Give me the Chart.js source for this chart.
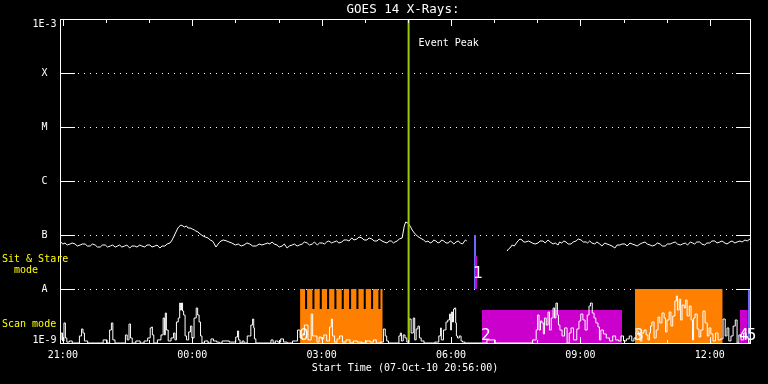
<!DOCTYPE html>
<html><head><meta charset="utf-8">
<script src="https://cdn.jsdelivr.net/npm/chart.js@4/dist/chart.umd.min.js"></script>
<style>html,body{margin:0;padding:0;background:#000;overflow:hidden}</style>
</head><body>
<canvas id="c" width="768" height="384"></canvas>
<script>
// ---------- DATA ----------
const titleText = 'GOES 14 X-Rays:';
const xAxisTitle = 'Start Time (07-Oct-10 20:56:00)';
// time axis: minutes after 07-Oct-10 20:56:00
const xRange = [0, 960];
const xTickMinutes = [4, 184, 364, 544, 724, 904];
const xTickLabels = ['21:00', '00:00', '03:00', '06:00', '09:00', '12:00'];
const xMinorMinutes = [4, 64, 124, 184, 244, 304, 364, 424, 484, 544, 604, 664, 724, 784, 844, 904];
const yTickValues = [1e-9, 1e-8, 1e-7, 1e-6, 1e-5, 1e-4, 1e-3];
const yTickLabels = ['1E-9', 'A', 'B', 'C', 'M', 'X', '1E-3'];

// GOES long channel (1-8 A), [minute, flux in 1e-8 W/m^2]
const longChannel = [[1,7.42],[4,6.81],[7,7.11],[10,6.52],[14,6.81],[17,7.11],[21,6.81],[24,6.25],[28,6.52],[31,6.81],[35,6.81],[38,6.25],[42,6.25],[45,6.81],[49,6.52],[52,5.99],[56,5.99],[59,6.52],[63,6.52],[66,5.99],[70,6.25],[73,6.52],[77,5.99],[80,6.25],[83,6.52],[86,5.99],[90,6.25],[93,6.52],[97,5.74],[100,6.25],[104,6.25],[107,5.99],[111,6.52],[114,6.25],[118,5.99],[121,6.52],[125,6.52],[128,5.99],[132,6.25],[135,6.52],[139,5.74],[142,6.25],[146,6.25],[149,6.81],[153,7.11],[156,8.08],[160,10.43],[164,13.48],[168,15.32],[171,14.68],[173,14.07],[176,14.68],[178,13.48],[181,13.48],[184,12.92],[187,12.37],[189,11.86],[192,11.36],[195,10.43],[199,9.58],[202,9.18],[206,8.80],[209,8.08],[212,7.74],[214,7.11],[217,5.99],[219,6.52],[221,7.11],[224,7.74],[227,8.08],[232,7.74],[235,7.42],[239,7.11],[244,6.52],[248,6.81],[252,6.25],[256,6.52],[260,7.11],[264,6.81],[268,6.25],[273,6.25],[277,6.81],[281,6.52],[285,6.81],[289,7.11],[292,6.81],[295,7.42],[298,6.81],[302,6.52],[305,5.99],[309,6.25],[312,6.81],[316,5.74],[319,6.25],[323,6.52],[326,6.81],[330,6.25],[333,6.52],[337,6.81],[340,7.42],[344,7.11],[347,6.52],[351,6.81],[354,7.42],[358,6.52],[361,7.11],[365,7.11],[368,6.81],[371,7.42],[374,7.74],[378,7.11],[381,7.42],[385,7.74],[388,7.11],[392,7.42],[395,8.08],[399,8.08],[402,7.74],[406,8.80],[409,8.08],[413,8.43],[416,9.18],[420,8.80],[423,8.08],[427,8.08],[430,8.80],[434,8.43],[437,7.74],[441,7.74],[444,8.43],[448,7.74],[451,7.42],[455,7.11],[458,7.74],[461,7.74],[464,7.11],[466,7.42],[469,7.74],[472,8.43],[476,8.80],[479,14.68],[481,17.41],[484,16.68],[487,14.68],[490,12.37],[493,10.89],[497,9.58],[501,8.80],[506,8.08],[509,7.42],[512,7.74],[515,7.11],[518,7.42],[520,8.08],[523,7.74],[526,7.11],[529,7.42],[531,8.08],[534,7.74],[537,7.11],[540,7.11],[543,7.74],[545,7.42],[548,6.81],[551,7.42],[554,7.74],[557,7.11],[560,6.81],[562,7.42],[564,8.08],[566,7.74],[598,null],[622,5.05],[624,5.50],[626,5.74],[629,6.52],[632,6.25],[635,7.11],[637,7.74],[640,8.43],[643,8.08],[645,7.42],[648,7.42],[652,7.74],[657,7.11],[661,6.81],[665,7.11],[668,7.74],[672,7.74],[675,7.11],[679,8.08],[682,7.42],[686,6.81],[689,7.11],[693,6.52],[695,7.42],[698,7.11],[701,7.74],[704,7.42],[707,6.81],[711,6.81],[714,7.42],[718,7.74],[721,8.43],[725,8.08],[728,7.42],[732,7.42],[734,7.11],[737,7.74],[740,7.11],[744,6.81],[747,7.42],[751,6.81],[754,6.25],[758,7.11],[761,6.81],[765,6.52],[768,6.25],[772,5.74],[775,6.52],[779,6.52],[782,6.81],[786,6.81],[789,6.25],[793,7.11],[796,6.81],[800,6.52],[803,6.25],[807,6.81],[810,7.11],[814,7.42],[817,6.81],[821,6.52],[824,6.25],[828,6.52],[831,7.11],[835,6.81],[838,6.25],[842,6.25],[845,6.81],[849,6.81],[852,7.11],[856,7.42],[859,6.81],[863,6.52],[866,6.81],[870,7.11],[873,6.52],[877,7.42],[880,7.11],[883,6.81],[886,7.42],[890,7.42],[893,6.81],[897,6.52],[900,7.11],[904,7.11],[907,7.74],[911,7.74],[914,7.11],[918,7.42],[921,7.74],[925,7.11],[928,6.81],[932,7.42],[935,7.74],[939,7.11],[942,7.42],[946,7.74],[949,7.42],[953,8.08],[956,7.74],[960,8.43]];

// GOES short channel (0.5-4 A), [minute, flux in 1e-9 W/m^2]
const shortChannel = [[0,1.14],[3,1.53],[4,1.09],[7,2.35],[8,1.24],[11,1.04],[15,1.09],[19,1.0],[25,1.0],[29,1.35],[31,1.82],[33,1.53],[35,1.09],[42,1.0],[56,1.0],[64,1.14],[67,1.0],[71,1.74],[72,2.35],[75,1.14],[78,1.0],[90,1.0],[92,1.41],[95,1.14],[97,2.25],[99,1.24],[102,1.0],[109,1.09],[114,1.0],[120,1.09],[124,1.24],[127,1.90],[128,1.98],[129,1.41],[132,1.0],[139,1.14],[142,1.41],[145,2.90],[146,1.41],[147,3.59],[149,1.74],[152,1.09],[157,1.24],[159,1.53],[161,1.14],[163,2.45],[166,2.90],[167,5.50],[168,4.08],[170,5.50],[171,3.91],[173,3.30],[175,1.35],[177,1.14],[181,1.60],[182,2.06],[185,1.24],[188,2.90],[191,4.45],[192,3.30],[195,2.45],[196,1.35],[199,1.0],[203,1.09],[209,1.0],[211,1.19],[216,1.09],[220,1.04],[223,1.0],[228,1.09],[243,1.04],[246,1.29],[248,1.67],[249,1.14],[252,1.0],[255,1.09],[257,1.0],[264,1.35],[267,2.15],[269,2.78],[270,1.90],[271,1.19],[274,1.0],[292,1.0],[295,1.14],[298,1.0],[301,1.09],[305,1.04],[309,1.19],[313,1.04],[319,1.0],[328,1.09],[333,1.74],[335,1.24],[338,1.41],[342,2.15],[348,1.14],[351,3.44],[352,1.35],[356,1.35],[359,1.04],[362,1.29],[365,1.19],[369,1.41],[373,1.09],[377,1.98],[378,2.78],[380,1.35],[384,1.04],[387,1.19],[391,1.35],[395,1.04],[401,1.14],[406,1.0],[410,1.09],[417,1.04],[423,1.0],[429,1.09],[434,1.04],[438,1.14],[442,1.0],[449,1.04],[451,1.82],[454,1.35],[455,1.09],[459,1.0],[470,1.0],[473,1.35],[474,1.53],[476,1.09],[479,1.41],[481,1.24],[484,1.04],[487,2.78],[490,1.53],[493,2.90],[494,1.14],[497,1.82],[499,2.06],[501,1.24],[504,1.09],[509,1.0],[518,1.0],[525,1.04],[529,1.35],[530,1.90],[531,1.14],[536,1.74],[538,2.45],[541,2.67],[543,3.44],[544,1.74],[545,3.75],[547,2.45],[548,4.26],[550,4.45],[551,2.35],[552,1.35],[554,1.24],[557,1.35],[559,1.09],[561,1.04],[566,1.0],[584,1.0],[604,1.14],[607,1.0],[626,1.0],[654,1.0],[661,1.14],[664,1.74],[665,3.30],[668,1.74],[669,2.55],[672,2.35],[673,1.47],[675,2.90],[678,2.15],[680,3.75],[682,1.74],[685,2.90],[687,4.45],[689,2.90],[691,5.50],[693,3.30],[694,2.15],[697,1.74],[700,1.35],[704,1.90],[707,1.0],[710,1.53],[712,1.90],[717,1.14],[721,1.82],[723,2.55],[726,3.44],[729,2.67],[732,1.74],[735,3.30],[737,4.84],[739,5.50],[742,3.59],[744,2.90],[747,2.35],[750,1.98],[751,1.14],[754,1.74],[758,1.47],[762,1.24],[767,1.09],[771,1.35],[775,1.14],[779,1.09],[782,1.35],[786,1.09],[790,1.19],[794,1.35],[797,1.09],[800,1.24],[803,1.67],[806,1.41],[808,1.09],[811,1.53],[814,1.74],[817,1.41],[819,1.14],[821,1.53],[822,2.06],[825,2.45],[828,1.24],[831,1.74],[833,3.03],[836,2.35],[839,3.59],[842,2.90],[843,1.60],[846,2.67],[849,3.75],[851,2.06],[854,3.16],[857,5.99],[858,7.41],[860,4.08],[863,6.52],[864,2.67],[867,5.05],[870,4.45],[871,6.25],[874,3.16],[877,4.84],[879,2.67],[881,1.14],[882,2.90],[885,3.44],[888,1.82],[890,1.29],[893,1.74],[896,3.91],[899,2.35],[902,1.35],[904,1.90],[907,1.47],[910,1.09],[914,1.53],[917,1.14],[921,1.19],[924,2.78],[927,1.35],[929,1.90],[932,1.09],[935,1.35],[938,2.06],[941,2.67],[943,1.0],[946,1.41],[949,1.14],[953,1.53],[956,1.24],[960,1.0]];

const eventPeakMinute = 485;
const eventLabel = 'Event Peak';

// observation blocks
const blockIds   = ['0', '1', '2', '3', '4', '5'];
const blockKind  = ['orange', 'blue', 'magenta', 'orange', 'magenta', 'blue'];
const blockStart = [334, 576, 587, 800, 946, 957];
const blockEnd   = [449, 579, 782, 922, 957, 960];
const blockHigh  = [1e-8, 1e-7, 4.08e-9, 1e-8, 4.08e-9, 1e-8];
const blockLow   = [1e-9, 1e-8, 1e-9, 1e-9, 1e-9, 1e-9];
// inner sub-bar of block 1
const subBarStart = 577.5, subBarEnd = 580.5, subBarHigh = 4.08e-8, subBarLow = 1e-8;
// data gaps inside block 0
const gapStart = [341, 351.2, 361.4, 371.6, 381.8, 392, 402.2, 412.4, 422.6, 432.8, 443];
const gapEnd   = [343.8, 354, 364.2, 374.4, 384.6, 394.8, 405, 415.2, 425.4, 435.6, 445.8];
const gapLevel = 4.26e-9;
const modeLabels = [['Sit & Stare', '  mode'], ['Scan mode']];
const modeLabelValues = [3.6e-8, 2.25e-9];

// ---------- CHART ----------
const MONO = '"DejaVu Sans Mono", "Liberation Mono", monospace';
const kindColor = {orange: '#ff8000', magenta: '#cc00cc', blue: '#6a6aff'};

const datasets = [];
datasets.push({
  label: 'event', data: [{x: eventPeakMinute, y: 1e-9}, {x: eventPeakMinute, y: 1e-3}],
  borderColor: '#99cc00', borderWidth: 2, pointRadius: 0, fill: false
});
datasets.push({
  label: 'short', data: shortChannel.map(p => ({x: p[0], y: p[1] * 1e-9})),
  borderColor: '#ffffff', borderWidth: 1, pointRadius: 0, fill: false, stepped: 'middle'
});
datasets.push({
  label: 'long', data: longChannel.map(p => ({x: p[0], y: p[1] === null ? null : p[1] * 1e-8})),
  borderColor: '#ffffff', borderWidth: 1, pointRadius: 0, fill: false, spanGaps: false
});
datasets.push({
  label: 'sub', data: [{x: subBarStart, y: subBarHigh}, {x: subBarEnd, y: subBarHigh}],
  borderWidth: 0, pointRadius: 0, backgroundColor: kindColor.magenta, fill: {value: subBarLow}
});
blockIds.forEach((id, i) => {
  let pts;
  if (i === 0) {
    pts = [{x: blockStart[i], y: blockHigh[i]}];
    gapStart.forEach((g, k) => {
      pts.push({x: g, y: blockHigh[i]}, {x: g, y: gapLevel}, {x: gapEnd[k], y: gapLevel}, {x: gapEnd[k], y: blockHigh[i]});
    });
    pts.push({x: blockEnd[i], y: blockHigh[i]});
  } else {
    pts = [{x: blockStart[i], y: blockHigh[i]}, {x: blockEnd[i], y: blockHigh[i]}];
  }
  datasets.push({
    label: 'block' + id, data: pts, borderWidth: 0, pointRadius: 0,
    backgroundColor: kindColor[blockKind[i]], borderColor: 'rgba(0,0,0,0)',
    fill: {value: blockLow[i]}
  });
});

const decor = {
  id: 'decor',
  beforeDraw(chart) {
    const {ctx, width, height} = chart;
    ctx.save(); ctx.fillStyle = '#000'; ctx.fillRect(0, 0, width, height); ctx.restore();
  },
  beforeDatasetsDraw(chart) {
    const {ctx, chartArea: a, scales: {y}} = chart;
    ctx.save();
    ctx.fillStyle = '#fff';
    yTickValues.forEach(v => {
      const py = Math.round(y.getPixelForValue(v));
      if (py <= a.top + 1 || py >= a.bottom - 1) return;
      for (let px = a.left + 18; px < a.right - 15; px += 6) ctx.fillRect(px, py, 1, 1);
    });
    ctx.restore();
  },
  afterDatasetsDraw(chart) {
    const {ctx, chartArea: a, scales: {x, y}} = chart;
    ctx.save();
    ctx.fillStyle = '#fff';
    // frame
    ctx.fillRect(a.left, a.top, a.right - a.left + 1, 1);
    ctx.fillRect(a.left, a.bottom, a.right - a.left + 1, 1);
    ctx.fillRect(a.left, a.top, 1, a.bottom - a.top + 1);
    ctx.fillRect(a.right, a.top, 1, a.bottom - a.top + 1);
    // y ticks
    yTickValues.forEach(v => {
      const py = Math.round(y.getPixelForValue(v));
      ctx.fillRect(a.left, py, 15, 1);
      ctx.fillRect(a.right - 14, py, 15, 1);
    });
    // x ticks
    xMinorMinutes.forEach(m => {
      const px = Math.round(x.getPixelForValue(m));
      const len = xTickMinutes.includes(m) ? 7 : 4;
      ctx.fillRect(px, a.top, 1, len);
      ctx.fillRect(px, a.bottom - len + 1, 1, len);
    });
    ctx.restore();
  },
  afterDraw(chart) {
    const {ctx, chartArea: a, scales: {x, y}} = chart;
    ctx.save();
    // title
    ctx.fillStyle = '#fff';
    ctx.font = '12.5px ' + MONO;
    ctx.textAlign = 'center'; ctx.textBaseline = 'middle';
    ctx.fillText(titleText, (a.left + a.right) / 2 - 2, 10);
    // y labels
    ctx.font = '10px ' + MONO;
    yTickValues.forEach((v, i) => {
      let py = y.getPixelForValue(v);
      py = Math.min(Math.max(py, a.top + 4.5), a.bottom - 3);
      ctx.fillText(yTickLabels[i], a.left - 15.5, py + 0.5);
    });
    // event label
    ctx.textAlign = 'left';
    ctx.fillText(eventLabel, x.getPixelForValue(eventPeakMinute) + 10, a.top + 24);
    // mode labels
    ctx.fillStyle = '#ffff00';
    modeLabels.forEach((lines, i) => {
      const py = y.getPixelForValue(modeLabelValues[i]);
      lines.forEach((t, k) => ctx.fillText(t, 2, py + k * 11.7));
    });
    // block numbers
    ctx.fillStyle = '#fff';
    ctx.font = '16px ' + MONO;
    ctx.textBaseline = 'alphabetic';
    blockIds.forEach((id, i) => {
      const px = x.getPixelForValue(blockStart[i]);
      const py = blockKind[i] === 'blue' && blockLow[i] > 1e-9 ? a.bottom - 65 : a.bottom - 3;
      ctx.fillText(id, px - 1, py);
    });
    ctx.restore();
  }
};

new Chart(document.getElementById('c'), {
  type: 'line',
  data: {datasets},
  options: {
    responsive: false, animation: false, events: [],
    layout: {padding: {top: 19, right: 18, left: 0, bottom: 0}},
    plugins: {legend: {display: false}, tooltip: {enabled: false}, title: {display: false}},
    scales: {
      x: {
        type: 'linear', min: xRange[0], max: xRange[1],
        afterBuildTicks: s => { s.ticks = xTickMinutes.map(v => ({value: v})); },
        afterFit: s => { s.height = 41; },
        grid: {display: false, drawTicks: false}, border: {display: false},
        ticks: {
          color: '#fff', font: {family: MONO, size: 10}, padding: 6,
          autoSkip: false, maxRotation: 0, minRotation: 0,
          callback: (v, i) => xTickLabels[i]
        },
        title: {display: true, text: xAxisTitle, color: '#fff', font: {family: MONO, size: 10}, padding: {top: 0, bottom: 10}}
      },
      y: {
        type: 'logarithmic', min: yTickValues[0], max: yTickValues[yTickValues.length - 1],
        afterBuildTicks: s => { s.ticks = yTickValues.map(v => ({value: v})); },
        afterFit: s => { s.width = 60; },
        grid: {display: false, drawTicks: false}, border: {display: false},
        ticks: {display: false}
      }
    }
  },
  plugins: [decor]
});
</script>
</body></html>
